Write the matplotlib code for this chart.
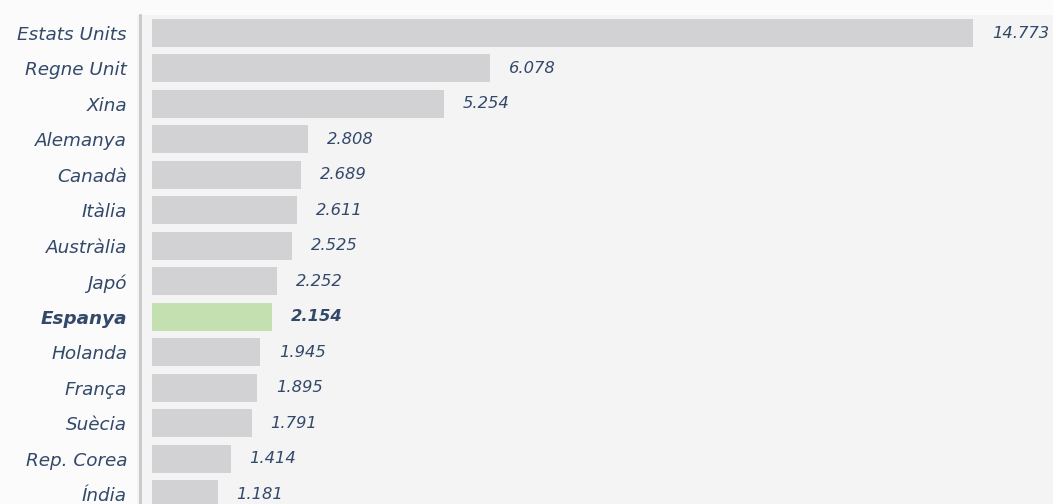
import matplotlib
matplotlib.use("Agg")
import matplotlib.pyplot as plt

# dades
paisos = ["Estats Units", "Regne Unit", "Xina", "Alemanya", "Canadà", "Itàlia",
          "Austràlia", "Japó", "Espanya", "Holanda", "França", "Suècia",
          "Rep. Corea", "Índia"]
valors = [14.773, 6.078, 5.254, 2.808, 2.689, 2.611, 2.525, 2.252, 2.154,
          1.945, 1.895, 1.791, 1.414, 1.181]
destacat = "Espanya"

text_color = "#33496a"
gris = "#d2d2d4"
verd = "#c5e0b0"

plt.rcParams['font.family'] = ['DejaVu Sans']

fig = plt.figure(figsize=(10.53, 5.04), dpi=100)
fig.patch.set_facecolor("#fbfbfb")
# axes des de x=137px, y=15px fins a baix
ax = fig.add_axes([137 / 1053, 0, 1 - 137 / 1053, (504 - 15) / 504])
ax.set_facecolor("#f4f4f4")

ys = list(range(len(paisos)))
colors = [verd if p == destacat else gris for p in paisos]
ax.barh(ys, valors, height=0.79, color=colors)

px_per_unit = 55.57
xmin = -(152 - 137) / px_per_unit
ax.set_xlim(xmin, xmin + (1053 - 137) / px_per_unit)
ax.set_ylim(13.28, -0.508)

# spines primer (set_position reinicia els ticks)
for s in ["top", "right", "bottom"]:
    ax.spines[s].set_visible(False)
ax.spines["left"].set_position(("data", -(152 - 139.5) / px_per_unit))
ax.spines["left"].set_color("#c8c8c8")
ax.spines["left"].set_linewidth(2)

for y, v, p in zip(ys, valors, paisos):
    txt = f"{v:.3f}"
    ax.annotate(txt, (v, y), xytext=(19, 0), textcoords="offset pixels",
                va="center", ha="left", fontsize=11.8, style="italic",
                color=text_color,
                fontweight="bold" if p == destacat else "normal")

ax.tick_params(axis="y", length=0, pad=9)
ax.set_yticks(ys)
ax.set_yticklabels(paisos)
for lbl in ax.get_yticklabels():
    lbl.set_fontsize(13.2)
    lbl.set_fontstyle("italic")
    lbl.set_color(text_color)
    if lbl.get_text() == destacat:
        lbl.set_fontweight("bold")
ax.set_xticks([])

fig.savefig("out.png", dpi=100, facecolor=fig.get_facecolor())
